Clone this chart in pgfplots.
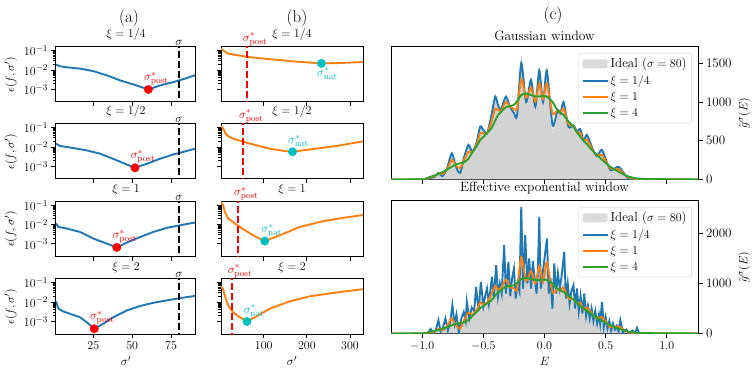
\documentclass[border=0pt]{standalone}
\usepackage{pgfplots}
\pgfplotsset{compat=1.18}
\usepackage{pgfplotstable}

\definecolor{tabblue}{HTML}{1F77B4}
\definecolor{taborange}{HTML}{FF7F0E}
\definecolor{tabgreen}{HTML}{2CA02C}
\definecolor{natc}{rgb}{0,0.75,0.75}
\definecolor{idealgray}{HTML}{D3D3D3}

% Gaussian window: E, ideal, xi=1/4, xi=1, xi=4
\pgfplotstableread{
E      ideal  b     o     g
-1.255 0      0     0     0
-1.0   0      0     1     3
-0.95  8      10    18    25
-0.90  32     35    44    52
-0.867 87     85    78    70
-0.835 38     45    70    95
-0.80  131    130   127   123
-0.758 364    338   252   165
-0.725 166    170   183   195
-0.69  67     85    147   208
-0.655 311    300   262   225
-0.622 472    446   358   270
-0.59  361    360   355   350
-0.555 487    480   455   430
-0.526 708    682   596   510
-0.50  653    640   595   550
-0.47  588    590   595   600
-0.435 844    820   740   660
-0.403 1116   1070  915   760
-0.38  980    960   895   830
-0.357 902    898   884   870
-0.335 1014   1000  952   905
-0.313 1090   1070  1002  935
-0.28  927    930   940   950
-0.25  845    860   912   963
-0.225 792    820   915   1010
-0.19  1600   1501  1295  1090
-0.15  983    1000  1055  1110
-0.111 1314   1285  1188  1090
-0.075 920    940   1006  1072
-0.043 1456   1406  1239  1072
-0.012 989    1000  1039  1078
0.019  1457   1406  1238  1070
0.066  655    700   850   1000
0.107  899    898   894   890
0.13   848    850   855   860
0.156  1025   1000  916   833
0.196  670    680   715   750
0.237  703    700   690   680
0.265  622    620   615   610
0.292  665    650   600   553
0.32   500    500   500   500
0.347  593    575   515   455
0.40   372    370   365   360
0.43   297    300   310   320
0.47   400    381   318   255
0.538  117    123   144   165
0.606  175    165   132   100
0.674  20     30    38    45
0.72   2      5     15    25
0.80   0      0     4     8
1.255  0      0     0     0
}\gauss

% Effective exponential window, xi=1/4
\pgfplotstableread{
E      b
-1.255 0
-0.97  0
-0.95  20
-0.93  90
-0.91  10
-0.89  60
-0.867 266
-0.85  40
-0.83  120
-0.81  300
-0.79  60
-0.77  250
-0.753 566
-0.735 200
-0.72  380
-0.70  20
-0.68  300
-0.66  430
-0.645 250
-0.635 633
-0.615 300
-0.595 520
-0.575 450
-0.559 933
-0.54  450
-0.52  1033
-0.50  550
-0.485 750
-0.47  900
-0.455 600
-0.43  1133
-0.415 700
-0.395 1366
-0.38  750
-0.365 1000
-0.35  800
-0.33  1766
-0.315 800
-0.295 1433
-0.28  750
-0.265 1100
-0.25  1300
-0.235 700
-0.22  1000
-0.205 850
-0.19  2533
-0.175 900
-0.158 1966
-0.14  1000
-0.125 1500
-0.11  900
-0.095 1450
-0.08  1100
-0.065 800
-0.055 1200
-0.043 2333
-0.03  900
-0.015 1200
0.0    1500
0.02   1900
0.035  800
0.05   1100
0.065  500
0.08   1400
0.095  800
0.11   1200
0.125  900
0.14   1150
0.161  1633
0.175  700
0.19   1000
0.205  600
0.22   850
0.237  966
0.25   500
0.265  900
0.28   450
0.295  750
0.31   400
0.325  800
0.34   350
0.355  550
0.37   300
0.385  500
0.40   250
0.415  450
0.43   200
0.445  380
0.455  200
0.47   633
0.485  130
0.50   330
0.515  100
0.53   250
0.545  60
0.56   200
0.575  80
0.59   150
0.605  40
0.62   266
0.64   20
0.67   80
0.69   10
0.72   60
0.74   10
0.756  113
0.775  0
1.255  0
}\expob

% Effective exponential window, xi=1
\pgfplotstableread{
E      o
-1.255 0
-1.0   1
-0.95  15
-0.90  40
-0.867 90
-0.835 60
-0.80  140
-0.758 300
-0.725 170
-0.69  100
-0.655 280
-0.622 420
-0.59  380
-0.555 470
-0.526 620
-0.50  580
-0.47  620
-0.435 780
-0.403 950
-0.38  880
-0.357 900
-0.335 1000
-0.313 1080
-0.28  930
-0.25  900
-0.225 880
-0.19  1530
-0.15  1050
-0.111 1250
-0.075 1000
-0.043 1350
-0.012 1020
0.019  1420
0.066  820
0.107  900
0.13   850
0.156  920
0.196  700
0.237  690
0.265  600
0.292  620
0.32   480
0.347  520
0.40   360
0.43   300
0.47   330
0.538  130
0.606  140
0.674  35
0.72   12
0.80   3
1.255  0
}\expoo

\pgfplotsset{every axis/.append style={scale only axis, anchor=south west,
    clip mode=individual, tick align=outside, xtick pos=left,
    axis line style={line width=1pt}, tick style={black, line width=1pt},
    major tick length=4.5pt, minor tick length=2.6pt,
    tick label style={font=\fontsize{13}{15}\selectfont},
    label style={font=\fontsize{13}{15}\selectfont},
    title style={font=\fontsize{13}{15}\selectfont, yshift=-3pt}}}
\tikzset{curve/.style={line width=1.9pt},
  sdash/.style={line width=2pt, dash pattern=on 7pt off 3pt},
  lbl/.style={font=\fontsize{13}{15}\selectfont, inner sep=1pt}}

\begin{document}
\begin{tikzpicture}

% ---------------- column (a) ----------------
\begin{axis}[at={(56pt,273pt)}, width=140pt, height=55pt, ymode=log,
  ymin=2.24e-4, ymax=0.158, ytick={1e-3,1e-2,1e-1}, ytick pos=left,
  xmin=1, xmax=91, xtick={25,50,75}, xticklabels={},
  ylabel={$\epsilon(f,\sigma')$}, title={$\xi=1/4$}]
\addplot[tabblue, curve] coordinates {(1,1.95e-2)(3.6,1.58e-2)(7.9,1.41e-2)(16.4,1.2e-2)(25,8.9e-3)(33.6,5.4e-3)(42.2,2.95e-3)(50.7,1.82e-3)(60.4,1.0e-3)(67.9,1.62e-3)(76.5,2.4e-3)(85.1,3.9e-3)(90.4,5.4e-3)};
\addplot[black, sdash] coordinates {(80,1e-5)(80,10)};
\addplot[red, only marks, mark=*, mark size=4.2pt] coordinates {(60.4,1.0e-3)};
\node[lbl, red, anchor=south, xshift=8pt, yshift=3pt] at (axis cs:60.4,1.0e-3) {$\sigma^*_{\mathrm{post}}$};
\node[lbl, anchor=south] at ({axis cs:80,1e-2}|-{rel axis cs:0,1}) {$\sigma$};
\end{axis}

\begin{axis}[at={(56pt,196pt)}, width=140pt, height=55pt, ymode=log,
  ymin=2.24e-4, ymax=0.158, ytick={1e-3,1e-2,1e-1}, ytick pos=left,
  xmin=1, xmax=91, xtick={25,50,75}, xticklabels={},
  ylabel={$\epsilon(f,\sigma')$}, title={$\xi=1/2$}]
\addplot[tabblue, curve] coordinates {(1,1.51e-2)(3.6,1.15e-2)(7.9,1.02e-2)(20.8,6.8e-3)(29.3,4.6e-3)(37.9,2.45e-3)(46.5,1.26e-3)(51.8,8.5e-4)(59.4,1.38e-3)(67.9,2.5e-3)(76.5,4.2e-3)(80.8,5.1e-3)(90.4,8.3e-3)};
\addplot[black, sdash] coordinates {(80,1e-5)(80,10)};
\addplot[red, only marks, mark=*, mark size=4.2pt] coordinates {(51.8,8.5e-4)};
\node[lbl, red, anchor=south, xshift=8pt, yshift=3pt] at (axis cs:51.8,8.5e-4) {$\sigma^*_{\mathrm{post}}$};
\node[lbl, anchor=south] at ({axis cs:80,1e-2}|-{rel axis cs:0,1}) {$\sigma$};
\end{axis}

\begin{axis}[at={(56pt,118.5pt)}, width=140pt, height=55pt, ymode=log,
  ymin=2.24e-4, ymax=0.158, ytick={1e-3,1e-2,1e-1}, ytick pos=left,
  xmin=1, xmax=91, xtick={25,50,75}, xticklabels={},
  ylabel={$\epsilon(f,\sigma')$}, title={$\xi=1$}]
\addplot[tabblue, curve] coordinates {(1,1.15e-2)(2.5,7.6e-3)(7.9,6.3e-3)(16.4,4.2e-3)(25,1.9e-3)(33.6,1.05e-3)(40.1,6.6e-4)(46.5,1.17e-3)(55.1,2.3e-3)(63.6,4.2e-3)(72.2,6.8e-3)(80.8,9.3e-3)(90.4,1.29e-2)};
\addplot[black, sdash] coordinates {(80,1e-5)(80,10)};
\addplot[red, only marks, mark=*, mark size=4.2pt] coordinates {(40.1,6.6e-4)};
\node[lbl, red, anchor=south, xshift=8pt, yshift=3pt] at (axis cs:40.1,6.6e-4) {$\sigma^*_{\mathrm{post}}$};
\node[lbl, anchor=south] at ({axis cs:80,1e-2}|-{rel axis cs:0,1}) {$\sigma$};
\end{axis}

\begin{axis}[at={(56pt,41pt)}, width=140pt, height=55pt, ymode=log,
  ymin=2.24e-4, ymax=0.158, ytick={1e-3,1e-2,1e-1}, ytick pos=left,
  xmin=1, xmax=91, xtick={25,50,75},
  ylabel={$\epsilon(f,\sigma')$}, title={$\xi=2$}, xlabel={$\sigma'$}]
\addplot[tabblue, curve] coordinates {(1,1.1e-2)(2.5,4.6e-3)(5.7,3.3e-3)(10,2.5e-3)(16.4,1.66e-3)(20.8,9.1e-4)(25.6,4.2e-4)(31.4,7.6e-4)(37.9,1.66e-3)(46.5,3.7e-3)(55.1,6.3e-3)(63.6,9.3e-3)(72.2,1.23e-2)(80.8,1.62e-2)(90.4,2.1e-2)};
\addplot[black, sdash] coordinates {(80,1e-5)(80,10)};
\addplot[red, only marks, mark=*, mark size=4.2pt] coordinates {(25.6,4.2e-4)};
\node[lbl, red, anchor=south, xshift=8pt, yshift=3pt] at (axis cs:25.6,4.2e-4) {$\sigma^*_{\mathrm{post}}$};
\node[lbl, anchor=south] at ({axis cs:80,1e-2}|-{rel axis cs:0,1}) {$\sigma$};
\end{axis}

% ---------------- column (b) ----------------
\begin{axis}[at={(221pt,273pt)}, width=142pt, height=55pt, ymode=log,
  ymin=2.24e-4, ymax=0.158, ytick={1e-3,1e-2,1e-1}, ytick pos=left, yticklabels={},
  xmin=1, xmax=330, xtick={100,200,300}, xticklabels={}, title={$\xi=1/4$}]
\addplot[taborange, curve] coordinates {(1,0.132)(5.7,0.107)(17.3,7.2e-2)(63.6,4.8e-2)(121.6,3.55e-2)(175.8,2.75e-2)(233.7,2.24e-2)(276,2.34e-2)(330,2.63e-2)};
\addplot[red, sdash] coordinates {(60.4,1e-5)(60.4,10)};
\addplot[natc, only marks, mark=*, mark size=4.2pt] coordinates {(233.7,2.24e-2)};
\node[lbl, natc, anchor=north, xshift=6pt, yshift=-3pt] at (axis cs:233.7,2.24e-2) {$\sigma^*_{\mathrm{nat}}$};
\node[lbl, red, anchor=south west, xshift=-5pt] at ({axis cs:60.4,1e-2}|-{rel axis cs:0,1}) {$\sigma^*_{\mathrm{post}}$};
\end{axis}

\begin{axis}[at={(221pt,196pt)}, width=142pt, height=55pt, ymode=log,
  ymin=2.24e-4, ymax=0.158, ytick={1e-3,1e-2,1e-1}, ytick pos=left, yticklabels={},
  xmin=1, xmax=330, xtick={100,200,300}, xticklabels={}, title={$\xi=1/2$}]
\addplot[taborange, curve] coordinates {(1,0.126)(5.7,9.3e-2)(13.6,4.2e-2)(28.9,2.75e-2)(63.6,1.62e-2)(113.9,8.3e-3)(148.7,6.3e-3)(166.5,5.75e-3)(206.6,7.6e-3)(268.5,1.15e-2)(330,2.0e-2)};
\addplot[red, sdash] coordinates {(51.8,1e-5)(51.8,10)};
\addplot[natc, only marks, mark=*, mark size=4.2pt] coordinates {(166.5,5.75e-3)};
\node[lbl, natc, anchor=south, xshift=6pt, yshift=4pt] at (axis cs:166.5,5.75e-3) {$\sigma^*_{\mathrm{nat}}$};
\node[lbl, red, anchor=south west, xshift=-5pt] at ({axis cs:51.8,1e-2}|-{rel axis cs:0,1}) {$\sigma^*_{\mathrm{post}}$};
\end{axis}

\begin{axis}[at={(221pt,118.5pt)}, width=142pt, height=55pt, ymode=log,
  ymin=2.24e-4, ymax=0.158, ytick={1e-3,1e-2,1e-1}, ytick pos=left, yticklabels={},
  xmin=1, xmax=330, xtick={100,200,300}, xticklabels={}, title={$\xi=1$}]
\addplot[taborange, curve] coordinates {(1,0.141)(5.7,0.105)(9.7,4.7e-2)(17.3,2.1e-2)(44.4,7.6e-3)(75.2,2.8e-3)(102.3,1.41e-3)(137.1,2.8e-3)(183.4,7.6e-3)(237.4,1.51e-2)(283.8,2.24e-2)(330,3.16e-2)};
\addplot[red, sdash] coordinates {(40.1,1e-5)(40.1,10)};
\addplot[natc, only marks, mark=*, mark size=4.2pt] coordinates {(102.3,1.41e-3)};
\node[lbl, natc, anchor=south, xshift=7pt, yshift=4pt] at (axis cs:102.3,1.41e-3) {$\sigma^*_{\mathrm{nat}}$};
\node[lbl, red, anchor=south west, xshift=-5pt] at ({axis cs:40.1,1e-2}|-{rel axis cs:0,1}) {$\sigma^*_{\mathrm{post}}$};
\end{axis}

\begin{axis}[at={(221pt,41pt)}, width=142pt, height=55pt, ymode=log,
  ymin=2.24e-4, ymax=0.158, ytick={1e-3,1e-2,1e-1}, ytick pos=left, yticklabels={},
  xmin=1, xmax=330, xtick={100,200,300}, title={$\xi=2$}, xlabel={$\sigma'$}]
\addplot[taborange, curve] coordinates {(1,6.3e-2)(5.7,5e-2)(9.7,2.24e-2)(17.3,6.8e-3)(28.9,3.0e-3)(44.4,1.66e-3)(61.3,1.0e-3)(83.1,1.82e-3)(113.9,4.6e-3)(160.3,1.1e-2)(206.6,2.0e-2)(268.5,3.16e-2)(330,4.7e-2)};
\addplot[red, sdash] coordinates {(25.6,1e-5)(25.6,10)};
\addplot[natc, only marks, mark=*, mark size=4.2pt] coordinates {(61.3,1.0e-3)};
\node[lbl, natc, anchor=south, xshift=7pt, yshift=4pt] at (axis cs:61.3,1.0e-3) {$\sigma^*_{\mathrm{nat}}$};
\node[lbl, red, anchor=south west, xshift=-5pt] at ({axis cs:25.6,1e-2}|-{rel axis cs:0,1}) {$\sigma^*_{\mathrm{post}}$};
\end{axis}

% ---------------- column (c) ----------------
\begin{axis}[at={(391pt,195.5pt)}, width=307pt, height=132.5pt,
  xmin=-1.255, xmax=1.255, ymin=0, ymax=1710,
  xtick={-1,-0.5,0,0.5,1}, xticklabels={},
  ytick={0,500,1000,1500}, yticklabels={0,500,1000,1500},
  ytick pos=right, yticklabel pos=right, ylabel={$\tilde{g}^{\sigma}(E)$},
  title={Gaussian window}, title style={font=\fontsize{13.5}{15}\selectfont},
  legend cell align=left,
  legend image code/.code={\draw[#1] (0pt,0pt) -- (25pt,0pt);},
  legend style={at={(0.98,0.955)}, anchor=north east, draw=black!18,
    rounded corners=2pt, fill=white, fill opacity=0.8, text opacity=1,
    font=\fontsize{13}{15}\selectfont, row sep=2.2pt, inner sep=3pt}]
\addplot[fill=idealgray, draw=none, smooth, tension=0.4,
  legend image code/.code={\fill[idealgray] (0pt,-4.5pt) rectangle (25pt,4.5pt);}]
  table[x=E, y=ideal]{\gauss} \closedcycle;
\addplot[tabblue, curve, smooth, tension=0.4] table[x=E, y=b]{\gauss};
\addplot[taborange, curve, smooth, tension=0.4] table[x=E, y=o]{\gauss};
\addplot[tabgreen, curve, smooth, tension=0.4] table[x=E, y=g]{\gauss};
\legend{Ideal ($\sigma=80$), $\xi=1/4$, $\xi=1$, $\xi=4$}
\end{axis}

\begin{axis}[at={(391pt,41.5pt)}, width=307pt, height=132.5pt,
  xmin=-1.255, xmax=1.255, ymin=0, ymax=2650,
  xtick={-1,-0.5,0,0.5,1}, xticklabels={$-1.0$,$-0.5$,$0.0$,$0.5$,$1.0$},
  ytick={0,1000,2000}, yticklabels={0,1000,2000},
  ytick pos=right, yticklabel pos=right, ylabel={$\tilde{g}^{\sigma}(E)$},
  xlabel={$E$},
  title={Effective exponential window}, title style={font=\fontsize{13.5}{15}\selectfont},
  legend cell align=left,
  legend image code/.code={\draw[#1] (0pt,0pt) -- (25pt,0pt);},
  legend style={at={(0.98,0.955)}, anchor=north east, draw=black!18,
    rounded corners=2pt, fill=white, fill opacity=0.8, text opacity=1,
    font=\fontsize{13}{15}\selectfont, row sep=2.2pt, inner sep=3pt}]
\addplot[fill=idealgray, draw=none, smooth, tension=0.4,
  legend image code/.code={\fill[idealgray] (0pt,-4.5pt) rectangle (25pt,4.5pt);}]
  table[x=E, y=ideal]{\gauss} \closedcycle;
\addplot[tabblue, curve] table[x=E, y=b]{\expob};
\addplot[taborange, curve, smooth, tension=0.4] table[x=E, y=o]{\expoo};
\addplot[tabgreen, curve, smooth, tension=0.4] table[x=E, y=g]{\gauss};
\legend{Ideal ($\sigma=80$), $\xi=1/4$, $\xi=1$, $\xi=4$}
\end{axis}

\node[font=\fontsize{17}{19}\selectfont] at (129pt,357pt) {(a)};
\node[font=\fontsize{17}{19}\selectfont] at (297pt,357pt) {(b)};
\node[font=\fontsize{17}{19}\selectfont] at (553pt,360pt) {(c)};

\pgfresetboundingbox
\useasboundingbox (0,0) rectangle (753pt,375pt);
\end{tikzpicture}
\end{document}
